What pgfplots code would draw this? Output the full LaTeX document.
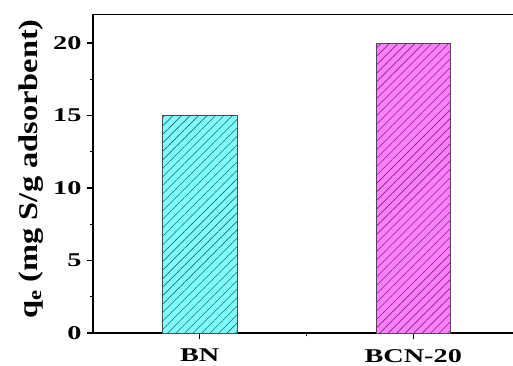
\documentclass[border=0pt]{standalone}
\usepackage{fontspec}
\setmainfont{Liberation Serif}
\newfontfamily\tickfont[FakeStretch=1.45]{Liberation Serif}
\newfontfamily\labfont[FakeStretch=1.2]{Liberation Serif}
\usepackage{pgfplots}
\pgfplotsset{compat=1.18}
\usetikzlibrary{patterns.meta}
\definecolor{cyanfill}{RGB}{128,255,255}
\definecolor{cyanhatch}{RGB}{30,105,110}
\definecolor{magfill}{RGB}{255,128,255}
\definecolor{maghatch}{RGB}{120,40,120}
\begin{document}
\begin{tikzpicture}
\begin{axis}[
  scale only axis, width=427pt, height=319pt,
  xmin=-0.5, xmax=1.5, ymin=0, ymax=22,
  axis x line*=bottom, axis y line*=left,
  axis line style={line width=1.6pt, -},
  ytick={0,5,10,15,20},
  minor ytick={2.5,7.5,12.5,17.5},
  xtick={0,1}, xticklabels={BN,BCN-20},
  minor xtick={0.5},
  tick align=outside,
  major tick length=6pt, minor tick length=3pt,
  tick style={line width=1.2pt, black},
  /pgf/number format/assume math mode=true,
  ticklabel style={font=\tickfont\fontsize{19.5}{21}\selectfont\bfseries},
  yticklabel style={xshift=-2pt},
  xticklabel style={inner sep=0pt, yshift=-10pt},
  ylabel={q\textsubscript{e} (mg S/g adsorbent)},
  ylabel style={font=\labfont\fontsize{27}{30}\selectfont\bfseries, at={(axis description cs:-0.145,0.514)}, anchor=center},
]
\addplot[ybar, bar width=0.35, fill=cyanfill, draw=gray!60!black, line width=0.6pt,
  postaction={pattern={Lines[angle=45,distance=6pt,line width=0.6pt]}, pattern color=cyanhatch}]
  coordinates {(0,15)};
\addplot[ybar, bar width=0.35, fill=magfill, draw=gray!60!black, line width=0.6pt,
  postaction={pattern={Lines[angle=45,distance=6pt,line width=0.6pt]}, pattern color=maghatch}]
  coordinates {(1,20)};
\draw[line width=1.6pt] (rel axis cs:0,1) -- (rel axis cs:1,1);
\end{axis}
\pgfresetboundingbox
\useasboundingbox (-93pt,-32pt) rectangle (420pt,333pt);
\end{tikzpicture}
\end{document}
